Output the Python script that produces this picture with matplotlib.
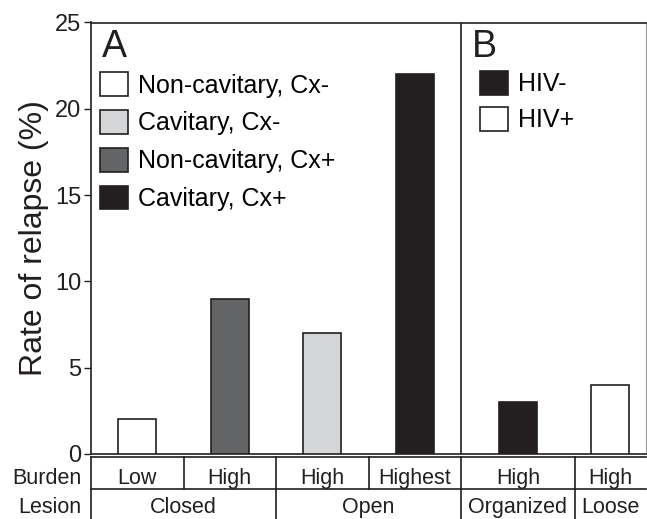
import numpy as np
import matplotlib.pyplot as plt
from matplotlib.patches import Patch

plt.rcParams['font.family'] = ['Liberation Sans', 'DejaVu Sans']

# Data
a_labels = ['Non-cavitary, Cx-', 'Non-cavitary, Cx+', 'Cavitary, Cx-', 'Cavitary, Cx+']
a_values = [2, 9, 7, 22]
a_colors = ['#ffffff', '#636466', '#d4d5d7', '#231f20']
a_burden = ['Low', 'High', 'High', 'Highest']
a_lesion = ['Closed', 'Open']

b_labels = ['HIV-', 'HIV+']
b_values = [3, 4]
b_colors = ['#231f20', '#ffffff']
b_burden = ['High', 'High']
b_lesion = ['Organized', 'Loose']

legend_a_order = [0, 2, 1, 3]

# cell boundaries along x (layout)
edges = [0, 1, 2, 3, 4, 5.23, 6.0]
centers = [(edges[i] + edges[i + 1]) / 2 for i in range(6)]
ec = '#231f20'
W, H = 647, 519

fig = plt.figure(figsize=(6.47, 5.19), dpi=100)
ax = fig.add_axes([91 / W, (H - 454) / H, (646 - 91) / W, (454 - 22.5) / H])

values = a_values + b_values
colors = a_colors + b_colors
ax.bar(centers, values, width=0.41, color=colors, edgecolor=ec, linewidth=1.2, zorder=3)

ax.set_xlim(0, 6.0)
ax.set_ylim(0, 25)
ax.set_yticks(np.arange(0, 26, 5))
ax.set_xticks([])
ax.tick_params(axis='y', direction='out', length=5, width=1, labelsize=17, colors='#231f20', pad=2)
for s in ['left', 'top', 'bottom']:
    ax.spines[s].set_color(ec)
    ax.spines[s].set_linewidth(1.2)
ax.spines['right'].set_color('#999999')
ax.spines['right'].set_linewidth(0.8)
ax.axvline(edges[4], color=ec, lw=1.2)
ax.set_ylabel('Rate of relapse (%)', fontsize=23, color='#231f20', labelpad=4)

ax.text(0.12, 24.6, 'A', fontsize=27, va='top', ha='left', color='#231f20')
ax.text(edges[4] + 0.12, 24.6, 'B', fontsize=27, va='top', ha='left', color='#231f20')

ha = [Patch(facecolor=a_colors[i], edgecolor=ec, linewidth=1.2, label=a_labels[i]) for i in legend_a_order]
leg_a = ax.legend(handles=ha, loc='upper left', bbox_to_anchor=(0.0, 0.905), frameon=False,
                  fontsize=18, handlelength=1.12, handleheight=1.08, handletextpad=0.4,
                  labelspacing=0.5, borderaxespad=0.0, borderpad=0.35)
ax.add_artist(leg_a)
hb = [Patch(facecolor=b_colors[i], edgecolor=ec, linewidth=1.2, label=b_labels[i]) for i in range(2)]
ax.legend(handles=hb, loc='upper left', bbox_to_anchor=(edges[4] / 6.0 + 0.018, 0.908), frameon=False,
          fontsize=18, handlelength=1.12, handleheight=1.08, handletextpad=0.4,
          labelspacing=0.43, borderaxespad=0.0, borderpad=0.35)

# table below
tx = fig.add_axes([91 / W, 0, (646 - 91) / W, (H - 457) / H])
tx.set_xlim(0, 6.0)
tx.set_ylim(0, 2)
tx.axis('off')
yb = 2 - 32 / 31
tx.plot([0, 6.0], [2, 2], color=ec, lw=1.2, clip_on=False)
tx.plot([0, 6.0], [yb, yb], color=ec, lw=1.2, clip_on=False)
for e in edges[:-1]:
    tx.plot([e, e], [yb, 2], color=ec, lw=1.2, clip_on=False)
for e in [0, 2, 4, 5.23]:
    tx.plot([e, e], [0, yb], color=ec, lw=1.2, clip_on=False)

fs = 15.5
y_burden = 35 / 31
y_lesion = 6 / 31
burden = a_burden + b_burden
for c, t in zip(centers, burden):
    tx.text(c, y_burden, t, ha='center', va='baseline', fontsize=fs, color='#231f20')
lesion_pos = [1, 3, centers[4], centers[5]]
for c, t in zip(lesion_pos, a_lesion + b_lesion):
    tx.text(c, y_lesion, t, ha='center', va='baseline', fontsize=fs, color='#231f20')
tx.text(-0.1, y_burden, 'Burden', ha='right', va='baseline', fontsize=fs, color='#231f20')
tx.text(-0.1, y_lesion, 'Lesion', ha='right', va='baseline', fontsize=fs, color='#231f20')

fig.savefig('out.png', dpi=100)
